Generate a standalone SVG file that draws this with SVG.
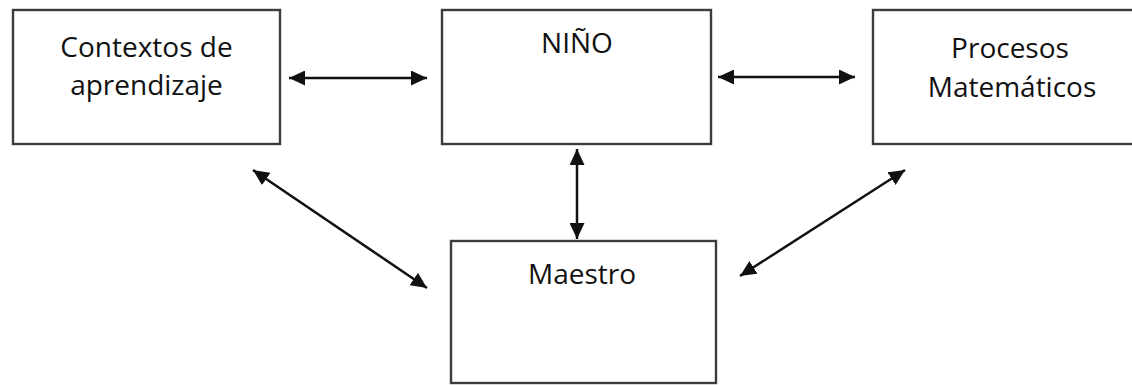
<svg xmlns="http://www.w3.org/2000/svg" width="1132" height="385" viewBox="0 0 1132 385">
<style>
.box{fill:#fff;stroke:#3c3c3c;stroke-width:2.4}
.lbl{font-family:"Open Sans","Liberation Sans",sans-serif;font-size:28px;fill:#111;text-anchor:middle}
.conn{stroke:#111;stroke-width:2.5;fill:none;marker-start:url(#ah);marker-end:url(#ah)}
</style>
<defs>
<marker id="ah" markerUnits="userSpaceOnUse" markerWidth="16" markerHeight="15" refX="16" refY="7.5" orient="auto-start-reverse" viewBox="0 0 16 15">
<path d="M0,0 L16,7.5 L0,15 z" fill="#111"/>
</marker>
</defs>
<rect width="1132" height="385" fill="#fff"/>
<g id="contextos">
<rect class="box" x="13" y="10" width="267" height="134"/>
<text class="lbl" x="146.5" y="57">Contextos de</text>
<text class="lbl" x="146.5" y="95">aprendizaje</text>
</g>
<g id="nino">
<rect class="box" x="442" y="10" width="269" height="134"/>
<text class="lbl" x="577" y="53">NIÑO</text>
</g>
<g id="procesos">
<rect class="box" x="873" y="10" width="275" height="134"/>
<text class="lbl" x="1010" y="58">Procesos</text>
<text class="lbl" x="1012" y="97">Matemáticos</text>
</g>
<g id="maestro">
<rect class="box" x="451" y="241" width="265" height="142"/>
<text class="lbl" x="582" y="284">Maestro</text>
</g>
<g id="connectors">
<line class="conn" x1="289" y1="78" x2="427" y2="78"/>
<line class="conn" x1="718" y1="77" x2="855" y2="77"/>
<line class="conn" x1="577" y1="149" x2="577" y2="239"/>
<line class="conn" x1="253" y1="170" x2="427" y2="288"/>
<line class="conn" x1="905" y1="170" x2="740" y2="276"/>
</g>
</svg>
